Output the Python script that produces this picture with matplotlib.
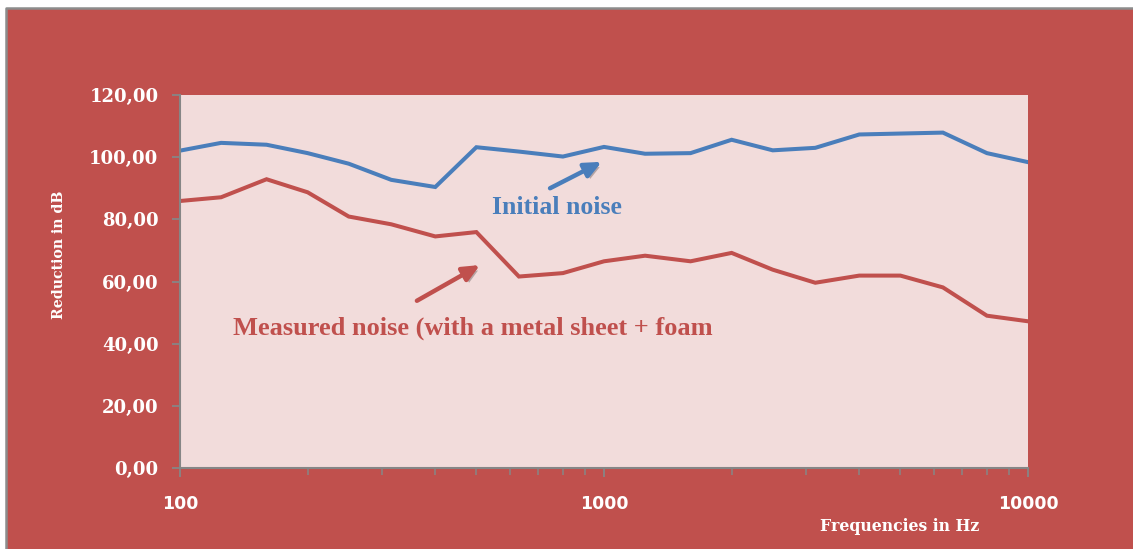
import matplotlib.pyplot as plt
import matplotlib.patheffects as pe
from matplotlib.patches import Rectangle
from matplotlib.lines import Line2D
from matplotlib.ticker import FixedLocator, LogLocator, NullFormatter

# third-octave bands
freqs = [100, 125, 160, 200, 250, 315, 400, 500, 630, 800, 1000,
         1250, 1600, 2000, 2500, 3150, 4000, 5000, 6300, 8000, 10000]
initial_noise = [102.1, 104.6, 104.0, 101.3, 97.9, 92.7, 90.4, 103.2, 101.8, 100.2, 103.3,
                 101.1, 101.3, 105.6, 102.2, 103.0, 107.3, 107.6, 107.9, 101.3, 98.4]
measured_noise = [85.9, 87.1, 92.9, 88.7, 80.9, 78.4, 74.5, 75.9, 61.6, 62.7, 66.5,
                  68.3, 66.5, 69.2, 63.8, 59.6, 61.9, 61.9, 58.1, 49.0, 47.2]
x_ticks = [100, 1000, 10000]
y_ticks = [0, 20, 40, 60, 80, 100, 120]

BG_RED = '#C0504D'
PINK = '#F2DCDB'
BLUE = '#4A7EBB'
RED = '#C0504D'
GRAY = '#868686'

fig = plt.figure(figsize=(11.33, 5.49), dpi=100, facecolor='white')
# red frame of the chart, border only on top and left (rest is cut off)
x0, y1 = 6 / 1133, 1 - 8 / 549
fig.add_artist(Rectangle((x0, 0), 1 - x0, y1, transform=fig.transFigure,
                         facecolor=BG_RED, lw=0, zorder=-10))
fig.add_artist(Line2D([x0, x0, 1], [0, y1, y1], transform=fig.transFigure,
                      color='#8c8c8c', lw=1.8, zorder=-9))

ax = fig.add_axes([180 / 1133, 1 - 468 / 549, 848 / 1133, 373 / 549])
ax.set_zorder(5)
ax.set_facecolor(PINK)

ax.plot(freqs, initial_noise, color=BLUE, lw=2.9, solid_joinstyle='miter')
ax.plot(freqs, measured_noise, color=RED, lw=2.9, solid_joinstyle='miter')

ax.set_xscale('log')
ax.set_xlim(100, 10000)
ax.set_ylim(0, 120)

ax.xaxis.set_major_locator(FixedLocator(x_ticks))
ax.xaxis.set_major_formatter(plt.FuncFormatter(lambda v, p: f'{v:.0f}'))
ax.xaxis.set_minor_locator(LogLocator(base=10, subs=range(2, 10)))
ax.xaxis.set_minor_formatter(NullFormatter())
ax.yaxis.set_major_locator(FixedLocator(y_ticks))
ax.yaxis.set_major_formatter(plt.FuncFormatter(lambda v, p: f'{v:.2f}'.replace('.', ',')))

for s in ['top', 'right']:
    ax.spines[s].set_visible(False)
for s in ['left', 'bottom']:
    ax.spines[s].set_color(GRAY)
    ax.spines[s].set_linewidth(1.5)

ax.tick_params(axis='x', which='major', direction='out', length=6.5, width=1.3,
               color=GRAY, pad=13, labelcolor='white')
ax.tick_params(axis='x', which='minor', direction='out', length=5, width=1.1, color=GRAY)
ax.tick_params(axis='y', direction='out', length=6, width=1.3, color=GRAY,
               pad=9.5, labelcolor='white')
for lab in ax.get_xticklabels():
    lab.set_fontfamily('DejaVu Sans')
    lab.set_fontweight('bold')
    lab.set_fontsize(12.5)
for lab in ax.get_yticklabels():
    lab.set_fontfamily('DejaVu Serif')
    lab.set_fontweight('bold')
    lab.set_fontsize(13)

ax.set_xlabel('Frequencies in Hz', color='white', fontfamily='DejaVu Serif',
              fontweight='bold', fontsize=11.3, va='center')
ax.xaxis.set_label_coords(0.849, -0.158)
ax.set_ylabel('Reduction in dB', color='white', fontfamily='DejaVu Serif',
              fontweight='bold', fontsize=10.2, va='center')
ax.yaxis.set_label_coords(-0.1427, 0.571)

shadow = [pe.withSimplePatchShadow(offset=(2, -2), shadow_rgbFace='black', alpha=0.25)]
arrow_style = '-|>,head_length=1.0,head_width=0.45'
ax.annotate('', xy=(988, 98.5), xytext=(746, 90.0),
            arrowprops=dict(arrowstyle=arrow_style, color=BLUE, lw=3.2,
                            shrinkA=0, shrinkB=0, path_effects=shadow))
ax.annotate('', xy=(510, 65.3), xytext=(362, 53.8),
            arrowprops=dict(arrowstyle=arrow_style, color=RED, lw=3.2,
                            shrinkA=0, shrinkB=0, path_effects=shadow))

ax.text(543, 81.7, 'Initial noise', color=BLUE, fontfamily='Liberation Serif',
        fontweight='bold', fontsize=18.5, ha='left', va='baseline')
ax.text(133, 42.8, 'Measured noise (with a metal sheet + foam', color=RED,
        fontfamily='Liberation Serif', fontweight='bold', fontsize=19,
        ha='left', va='baseline')

fig.savefig('out.png', dpi=100, facecolor=fig.get_facecolor())
